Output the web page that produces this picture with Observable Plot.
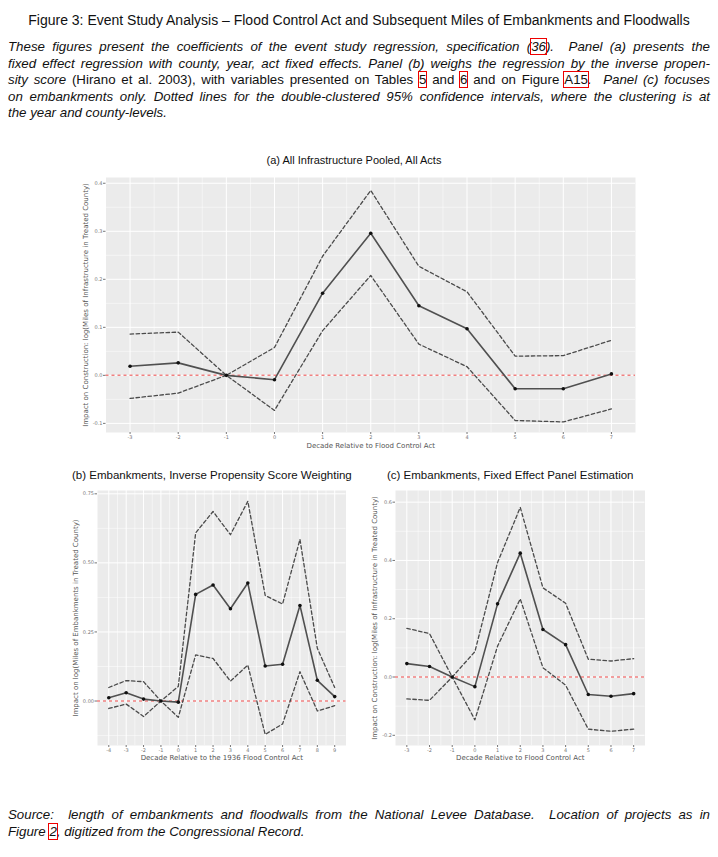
<!DOCTYPE html>
<html><head><meta charset="utf-8">
<script src="https://cdn.jsdelivr.net/npm/d3@7"></script>
<script src="https://cdn.jsdelivr.net/npm/@observablehq/plot@0.6"></script>
<style>
html,body{margin:0;padding:0;background:#fff;}
#page{position:relative;width:718px;height:857px;overflow:hidden;font-family:"Liberation Sans",Arial,sans-serif;color:#111;}
.abs{position:absolute;}
#title{left:0;width:718px;top:11px;text-align:center;font-size:14px;line-height:18px;white-space:nowrap;}
.para{left:8px;width:702px;font-size:13.3px;line-height:16.5px;font-style:italic;}
.para div{text-align:justify;text-align-last:justify;}
.para div.last{text-align-last:left;}
.up{font-style:normal;}
.ref{outline:1px solid #e00;outline-offset:0px;}
.sub{font-size:11px;line-height:14px;white-space:nowrap;z-index:2;}
.chart{position:absolute;z-index:1;}
</style></head><body>
<div id="page">
  <div id="title" class="abs">Figure 3: Event Study Analysis – Flood Control Act and Subsequent Miles of Embankments and Floodwalls</div>
  <div class="abs para" style="top:39px">
    <div>These figures present the coefficients of the event study regression, specification (<span class="ref">36</span>).&nbsp; Panel (a) presents the</div>
    <div>fixed effect regression with county, year, act fixed effects. Panel (b) weighs the regression by the inverse propen-</div>
    <div>sity score <span class="up">(Hirano et al. 2003), with variables presented on Tables <span class="ref">5</span> and <span class="ref">6</span> and on Figure <span class="ref">A15</span></span>.&nbsp; Panel (c) focuses</div>
    <div>on embankments only. Dotted lines for the double-clustered 95% confidence intervals, where the clustering is at</div>
    <div class="last">the year and county-levels.</div>
  </div>
  <div class="abs para" style="top:807px">
    <div>Source:&nbsp; length of embankments and floodwalls from the National Levee Database.&nbsp; Location of projects as in</div>
    <div class="last">Figure <span class="ref">2</span>, digitized from the Congressional Record.</div>
  </div>
  <div id="chartA" class="chart" style="left:40px;top:160px"></div>
  <div id="chartB" class="chart" style="left:40px;top:480px"></div>
  <div id="chartC" class="chart" style="left:360px;top:480px"></div>
  <div class="abs sub" style="left:254px;width:200px;text-align:center;top:153px">(a) All Infrastructure Pooled, All Acts</div>
  <div class="abs sub" style="left:72px;top:467.5px;font-size:11.5px">(b) Embankments, Inverse Propensity Score Weighting</div>
  <div class="abs sub" style="left:387px;top:467.5px;font-size:11.5px">(c) Embankments, Fixed Effect Panel Estimation</div>
</div>
<script>
// ---- Panel (a): All infrastructure pooled, all acts
const decadesA = [-3, -2, -1, 0, 1, 2, 3, 4, 5, 6, 7];
const coefA  = [0.019, 0.026, 0.000, -0.009, 0.171, 0.296, 0.145, 0.097, -0.028, -0.028, 0.003];
const upperA = [0.086, 0.090, 0.000, 0.058, 0.248, 0.385, 0.227, 0.174, 0.040, 0.041, 0.073];
const lowerA = [-0.048, -0.037, 0.000, -0.073, 0.093, 0.208, 0.065, 0.018, -0.094, -0.097, -0.070];
const yTicksA = [-0.1, 0.0, 0.1, 0.2, 0.3, 0.4];
const yMinorA = [-0.05, 0.05, 0.15, 0.25, 0.35];

// ---- Panel (b): Embankments, inverse propensity score weighting
const decadesB = [-4, -3, -2, -1, 0, 1, 2, 3, 4, 5, 6, 7, 8, 9];
const coefB  = [0.012, 0.030, 0.007, 0.000, -0.004, 0.386, 0.420, 0.334, 0.427, 0.127, 0.133, 0.346, 0.075, 0.016];
const upperB = [0.049, 0.074, 0.070, 0.000, 0.053, 0.609, 0.686, 0.602, 0.723, 0.382, 0.351, 0.585, 0.191, 0.049];
const lowerB = [-0.027, -0.011, -0.056, 0.000, -0.059, 0.167, 0.154, 0.072, 0.130, -0.121, -0.083, 0.106, -0.036, -0.017];
const yTicksB = [0.0, 0.25, 0.5, 0.75];
const yMinorB = [-0.125, 0.125, 0.375, 0.625];

// ---- Panel (c): Embankments, fixed effect panel estimation
const decadesC = [-3, -2, -1, 0, 1, 2, 3, 4, 5, 6, 7];
const coefC  = [0.046, 0.036, 0.000, -0.033, 0.251, 0.425, 0.163, 0.111, -0.060, -0.066, -0.057];
const upperC = [0.167, 0.149, 0.000, 0.087, 0.393, 0.582, 0.306, 0.253, 0.061, 0.055, 0.063];
const lowerC = [-0.075, -0.080, 0.000, -0.147, 0.106, 0.268, 0.032, -0.028, -0.179, -0.186, -0.179];
const yTicksC = [-0.2, 0.0, 0.2, 0.4, 0.6];
const yMinorC = [-0.1, 0.1, 0.3, 0.5];

const xLabelA = "Decade Relative to Flood Control Act";
const yLabelA = "Impact on Construction: log(Miles of Infrastructure in Treated County)";
const xLabelB = "Decade Relative to the 1936 Flood Control Act";
const yLabelB = "Impact on log(Miles of Embankments in Treated County)";
const xLabelC = "Decade Relative to Flood Control Act";
const yLabelC = "Impact on Construction: log(Miles of Infrastructure in Treated County)";

function panel(o) {
  const rows = o.decades.map((d, i) => ({decade: d, coef: o.coef[i], upper: o.upper[i], lower: o.lower[i]}));
  const xMinor = o.decades.slice(0, -1).map(d => d + 0.5);
  const lo = o.decades[0], hi = o.decades[o.decades.length - 1];
  const pad = (hi - lo) * 0.05;
  return Plot.plot({
    width: o.width, height: o.height,
    marginLeft: o.ml, marginRight: o.mr, marginTop: o.mt, marginBottom: o.mb,
    x: {domain: [lo - pad, hi + pad], axis: null},
    y: {domain: o.yDomain, axis: null},
    style: {background: "transparent", fontFamily: "'DejaVu Sans', sans-serif", overflow: "visible"},
    marks: [
      Plot.frame({fill: "#ebebeb", stroke: null}),
      Plot.gridY(o.yMinor, {stroke: "#ffffff", strokeOpacity: 1, strokeWidth: 0.5}),
      Plot.gridX(xMinor, {stroke: "#ffffff", strokeOpacity: 1, strokeWidth: 0.5}),
      Plot.gridY(o.yTicks, {stroke: "#ffffff", strokeOpacity: 1, strokeWidth: 1}),
      Plot.gridX(o.decades, {stroke: "#ffffff", strokeOpacity: 1, strokeWidth: 1}),
      Plot.ruleY([0], {stroke: "#f08080", strokeWidth: 1.5, strokeDasharray: "3,3"}),
      Plot.line(rows, {x: "decade", y: "upper", stroke: "#4a4a4a", strokeWidth: 1.3, strokeDasharray: "3.5,2.5"}),
      Plot.line(rows, {x: "decade", y: "lower", stroke: "#4a4a4a", strokeWidth: 1.3, strokeDasharray: "3.5,2.5"}),
      Plot.line(rows, {x: "decade", y: "coef", stroke: "#505050", strokeWidth: 1.6}),
      Plot.dot(rows, {x: "decade", y: "coef", r: 1.8, fill: "#111", stroke: null}),
      Plot.axisX(o.decades, {tickSize: 2, tickPadding: 1, fontSize: 5, color: "#777", label: null, tickFormat: d => String(d)}),
      Plot.axisY(o.yTicks, {tickSize: 2.5, tickPadding: 1, fontSize: 5, color: "#777", label: null, tickFormat: o.yFmt}),
      Plot.text([o.xLabel], {text: d => d, frameAnchor: "bottom", textAnchor: "middle", lineAnchor: "middle", dy: o.xdy, fontSize: 7, fill: "#555"}),
      Plot.text([o.yLabel], {text: d => d, frameAnchor: "left", textAnchor: "middle", lineAnchor: "middle", rotate: -90, dx: -o.ydx, fontSize: 7, fill: "#555"})
    ]
  });
}

document.getElementById("chartA").append(panel({
  decades: decadesA, coef: coefA, upper: upperA, lower: lowerA,
  yDomain: [-0.119, 0.412], yTicks: yTicksA, yMinor: yMinorA, yFmt: d => d.toFixed(1),
  xLabel: xLabelA, yLabel: yLabelA,
  width: 610, height: 295, ml: 65.5, mr: 15, mt: 17, mb: 23, xdy: 13, ydx: 20.5
}));
document.getElementById("chartB").append(panel({
  decades: decadesB, coef: coefB, upper: upperB, lower: lowerB,
  yDomain: [-0.161, 0.762], yTicks: yTicksB, yMinor: yMinorB, yFmt: d => d.toFixed(2),
  xLabel: xLabelB, yLabel: yLabelB,
  width: 320, height: 290, ml: 57, mr: 14.5, mt: 10, mb: 25, xdy: 12, ydx: 22
}));
document.getElementById("chartC").append(panel({
  decades: decadesC, coef: coefC, upper: upperC, lower: lowerC,
  yDomain: [-0.235, 0.64], yTicks: yTicksC, yMinor: yMinorC, yFmt: d => d.toFixed(1),
  xLabel: xLabelC, yLabel: yLabelC,
  width: 300, height: 290, ml: 35, mr: 15.5, mt: 10, mb: 25, xdy: 12, ydx: 21
}));
</script>
</body></html>
